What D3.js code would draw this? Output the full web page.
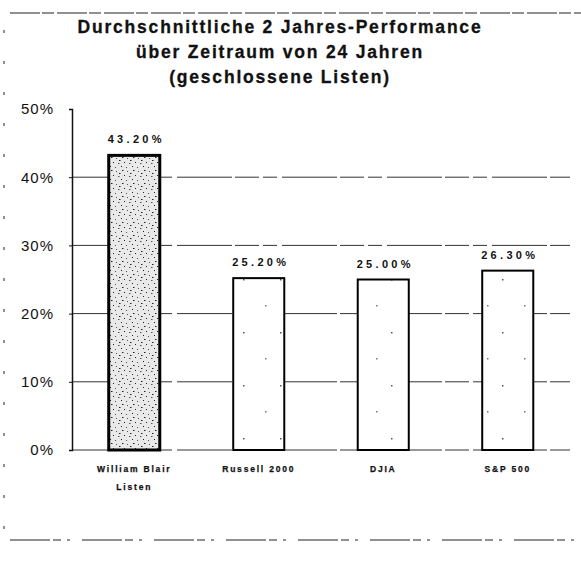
<!DOCTYPE html>
<html lang="de">
<head>
<meta charset="UTF-8">
<title>Durchschnittliche 2 Jahres-Performance</title>
<script src="https://cdn.jsdelivr.net/npm/d3@7"></script>
<style>
  body { margin: 0; background: #fff; }
  svg { display: block; font-family: "Liberation Sans", Arial, sans-serif; }
</style>
</head>
<body>
<div id="chart"></div>
<script>
// data
const categories = [["William Blair", "Listen"], ["Russell 2000"], ["DJIA"], ["S&P 500"]]
const values = [0.432, 0.252, 0.25, 0.263]
const valueLabels = ["43.20%", "25.20%", "25.00%", "26.30%"]
const yTicks = [0, 0.1, 0.2, 0.3, 0.4, 0.5]
const titleLines = ["Durchschnittliche 2 Jahres-Performance", "über Zeitraum von 24 Jahren", "(geschlossene Listen)"]

const width = 581
const height = 575
const plotLeft = 72, plotRight = 570, plotTop = 109, plotBottom = 450

const svg = d3.select("#chart").append("svg")
  .attr("width", width)
  .attr("height", height)

// stipple textures
const defs = svg.append("defs")
const dense = defs.append("pattern")
  .attr("id", "dense").attr("width", 11).attr("height", 13)
  .attr("patternUnits", "userSpaceOnUse")
dense.append("rect").attr("width", 11).attr("height", 13).attr("fill", "#e9e9e9")
;[[1, 1], [6, 2], [3, 6], [8, 7], [0, 10], [5, 11], [9, 4]].forEach(([x, y], k) =>
  dense.append("rect").attr("x", x).attr("y", y)
    .attr("width", k % 3 === 0 ? 1.5 : 1).attr("height", 1)
    .attr("fill", k % 2 ? "#555" : "#222"))
const sparse = defs.append("pattern")
  .attr("id", "sparse").attr("width", 37).attr("height", 53)
  .attr("patternUnits", "userSpaceOnUse")
sparse.append("rect").attr("width", 37).attr("height", 53).attr("fill", "#fff")
sparse.append("rect").attr("x", 21).attr("y", 14).attr("width", 1.5).attr("height", 1.5).attr("fill", "#555")
sparse.append("rect").attr("x", 6).attr("y", 40).attr("width", 1.5).attr("height", 1.5).attr("fill", "#777")

// page frame (scanned border)
const frame = svg.append("g").attr("stroke", "#222").attr("fill", "none")
frame.append("line").attr("x1", 10).attr("x2", 581).attr("y1", 13).attr("y2", 13)
  .attr("stroke-width", 1).attr("stroke-dasharray", "30,2,12,3")
frame.append("line").attr("x1", 10).attr("x2", 581).attr("y1", 540).attr("y2", 540)
  .attr("stroke-width", 1).attr("stroke-dasharray", "40,3,8,6,3,12")
frame.append("line").attr("x1", 4).attr("x2", 4).attr("y1", 30).attr("y2", 540)
  .attr("stroke-width", 1).attr("stroke-dasharray", "3,28")

// title
svg.append("g").selectAll("text")
  .data(titleLines)
  .enter().append("text")
  .attr("x", 280)
  .attr("y", (d, i) => 33 + i * 25)
  .attr("text-anchor", "middle")
  .attr("font-size", 17.5)
  .attr("font-weight", "bold")
  .attr("letter-spacing", 1.8)
  .attr("fill", "#111")
  .attr("stroke", "#111")
  .attr("stroke-width", 0.3)
  .text(d => d)

const x = d3.scaleBand()
  .domain(d3.range(categories.length))
  .range([plotLeft, plotRight])
  .paddingInner(0.59)
  .paddingOuter(0.295)

const y = d3.scaleLinear()
  .domain([0, 0.5])
  .range([plotBottom, plotTop])

// gridlines
svg.append("g").selectAll("line")
  .data(yTicks.filter(d => d < 0.5))
  .enter().append("line")
  .attr("x1", plotLeft).attr("x2", plotRight)
  .attr("y1", d => y(d)).attr("y2", d => y(d))
  .attr("stroke", "#333")
  .attr("stroke-width", 1)
  .attr("stroke-dasharray", "55,3,24,4,14,5")

// y axis
const yAxis = d3.axisLeft(y)
  .tickValues(yTicks)
  .tickFormat(d3.format(".0%"))
  .tickSize(3)
  .tickPadding(15)
const ya = svg.append("g")
  .attr("transform", `translate(${plotLeft},0)`)
  .call(yAxis)
ya.select(".domain").attr("stroke", "#111").attr("stroke-width", 1.5)
ya.selectAll(".tick line").attr("stroke", "#111")
ya.selectAll(".tick text")
  .attr("font-size", 15)
  .attr("letter-spacing", 1)
  .attr("fill", "#111")
  .attr("font-family", "Liberation Sans, Arial, sans-serif")

// bars
svg.append("g").selectAll("rect")
  .data(values)
  .enter().append("rect")
  .attr("x", (d, i) => x(i))
  .attr("y", d => y(d))
  .attr("width", x.bandwidth())
  .attr("height", d => y(0) - y(d))
  .attr("fill", (d, i) => i === 0 ? "url(#dense)" : "url(#sparse)")
  .attr("stroke", "#000")
  .attr("stroke-width", (d, i) => i === 0 ? 3 : 2)

// value labels
svg.append("g").selectAll("text")
  .data(values)
  .enter().append("text")
  .attr("x", (d, i) => x(i) + x.bandwidth() / 2 + 2)
  .attr("y", d => y(d) - 12)
  .attr("text-anchor", "middle")
  .attr("font-size", 11)
  .attr("font-weight", "bold")
  .attr("letter-spacing", 3.3)
  .attr("fill", "#111")
  .text((d, i) => valueLabels[i])

// category labels
const cat = svg.append("g").selectAll("text")
  .data(categories)
  .enter().append("text")
  .attr("text-anchor", "middle")
  .attr("font-size", 8.5)
  .attr("font-weight", "bold")
  .attr("letter-spacing", 1.8)
  .attr("fill", "#111")
  .attr("stroke", "#111")
  .attr("stroke-width", 0.25)
cat.selectAll("tspan")
  .data((d, i) => d.map(line => ({ line, i })))
  .enter().append("tspan")
  .attr("x", d => x(d.i) + x.bandwidth() / 2)
  .attr("y", (d, j) => 472 + j * 18)
  .text(d => d.line)
</script>
</body>
</html>
